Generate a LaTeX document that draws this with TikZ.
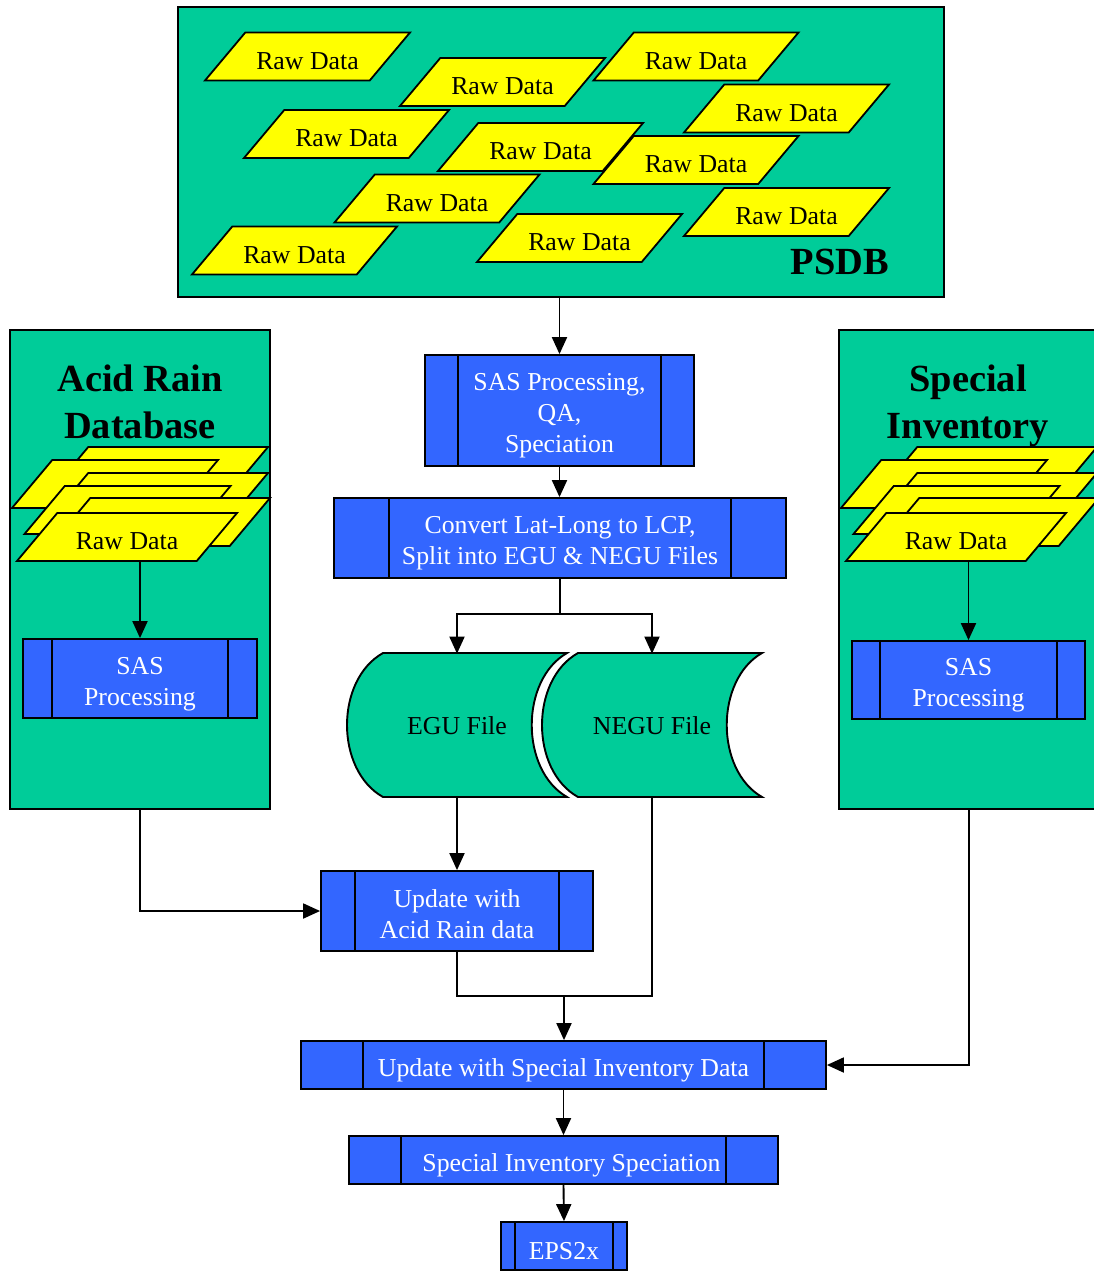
\documentclass[tikz,border=0pt]{standalone}
\usepackage{fontspec}
\setmainfont{Liberation Serif}
\usetikzlibrary{shapes.geometric,arrows.meta}

\definecolor{dbgreen}{RGB}{0,204,153}
\definecolor{procblue}{RGB}{51,102,255}
\definecolor{datayellow}{RGB}{255,255,0}
\newcommand{\topstrut}{\rule{0pt}{14pt}}

\begin{document}
\begin{tikzpicture}[x=0.5pt,y=-0.5pt]
\tikzset{database/.style = {shape=rectangle,draw,fill=dbgreen,line width=0.9pt,inner sep=0pt}}
\tikzset{rawdata/.style = {shape=trapezium,trapezium left angle=50,trapezium right angle=130,trapezium stretches body,draw,fill=datayellow,line width=0.9pt,inner xsep=0pt,inner ysep=5.75pt,text height=12.5pt,text depth=0pt,minimum width=102.5pt,font=\fontsize{12.9}{15.5}\selectfont}}
\tikzset{rawstack/.style = {rawdata,minimum width=110pt}}
\tikzset{process/.style = {shape=rectangle,draw,fill=procblue,line width=0.9pt,inner ysep=0pt,text=white,align=center,font=\fontsize{12.9}{15.5}\selectfont,
  path picture={\draw[line width=0.7pt] ([xshift=#1]path picture bounding box.north west) -- ([xshift=#1]path picture bounding box.south west);
                \draw[line width=0.7pt] ([xshift=-#1]path picture bounding box.north east) -- ([xshift=-#1]path picture bounding box.south east);}}}
\tikzset{dbtitle/.style = {align=center,font=\fontsize{19.2}{23.5}\selectfont\bfseries}}
\tikzset{filetext/.style = {minimum height=72pt,inner sep=0pt,font=\fontsize{12.9}{15.5}\selectfont}}
\tikzset{edge/.style = {-{Triangle[width=7.5pt,length=8.5pt]},line width=0.95pt}}
\tikzset{link/.style = {line width=0.95pt}}

\clip (0,0) rectangle (1094,1271);

% PSDB
\node[database,minimum width=383pt,minimum height=145pt] (psdb) at (561,152) {};
\node[rawdata] (raw1) at (307.5,56.5) {Raw Data};
\node[rawdata] (raw2) at (502.5,82) {Raw Data};
\node[rawdata] (raw3) at (696,56.5) {Raw Data};
\node[rawdata] (raw4) at (786.5,108.5) {Raw Data};
\node[rawdata] (raw5) at (346.5,134) {Raw Data};
\node[rawdata] (raw6) at (540.5,147) {Raw Data};
\node[rawdata] (raw7) at (696,160) {Raw Data};
\node[rawdata] (raw8) at (437,198.5) {Raw Data};
\node[rawdata] (raw9) at (786.5,212) {Raw Data};
\node[rawdata] (raw10) at (294.5,250.5) {Raw Data};
\node[rawdata] (raw11) at (579.5,238) {Raw Data};
\node[font=\fontsize{19.2}{23.5}\selectfont\bfseries] (psdblabel) at (840,262) {PSDB};

% side databases
\node[database,minimum width=130pt,minimum height=239.5pt] (acidrain) at (140,569.5) {};
\node[database,minimum width=130pt,minimum height=239.5pt] (special) at (969,569.5) {};
\node[dbtitle] (artitle) at (140,402) {Acid Rain\\Database};
\node[dbtitle] (sititle) at (968,406) {Special\\Inventory};

\node[rawstack] (ar1) at (158,471) {};
\node[rawstack,minimum width=103pt] (ar2) at (115,484) {};
\node[rawstack] (ar3) at (158,497) {};
\node[rawstack,minimum width=103pt] (ar4) at (127.5,510) {};
\node[rawstack] (ar5) at (160,522) {};
\node[rawstack] (ar6) at (127,537) {Raw Data};

\node[rawstack] (si1) at (987,471) {};
\node[rawstack,minimum width=103pt] (si2) at (944,484) {};
\node[rawstack] (si3) at (987,497) {};
\node[rawstack,minimum width=103pt] (si4) at (956.5,510) {};
\node[rawstack] (si5) at (989,522) {};
\node[rawstack] (si6) at (956,537) {Raw Data};

% processing steps
\node[process=14.5pt,minimum width=117pt,minimum height=39.5pt] (sasar) at (140,678.5) {\topstrut SAS\\Processing};
\node[process=14pt,minimum width=116.5pt,minimum height=39pt] (sassi) at (968.5,680) {\topstrut SAS\\Processing};
\node[process=16.5pt,minimum width=134.5pt,minimum height=55.5pt] (sasqa) at (559.5,410.5) {\topstrut SAS Processing,\\QA,\\Speciation};
\node[process=27.5pt,minimum width=226pt,minimum height=40pt] (convert) at (560,538) {\topstrut Convert Lat-Long to LCP,\\Split into EGU \& NEGU Files};
\node[process=17pt,minimum width=136pt,minimum height=40pt] (updar) at (457,911) {\rule{0pt}{12pt}Update with\\Acid Rain data};
\node[process=31pt,minimum width=262.5pt,minimum height=24pt] (updsi) at (563.5,1065) {\topstrut Update with Special Inventory Data};
\node[process=26pt,minimum width=214.5pt,minimum height=24pt] (spec) at (563.5,1160) {\topstrut\hspace*{8pt}Special Inventory Speciation};
\node[process=7pt,minimum width=63pt,minimum height=24pt] (eps) at (564,1246) {\topstrut EPS2x};

% files
\filldraw[link,fill=dbgreen] (383,653) -- (567,653) .. controls (520,680) and (520,770) .. (567,797) -- (383,797) .. controls (335,770) and (335,680) .. cycle;
\filldraw[link,fill=dbgreen] (578,653) -- (762,653) .. controls (715,680) and (715,770) .. (762,797) -- (578,797) .. controls (530,770) and (530,680) .. cycle;
\node[filetext] (egu) at (457,726) {EGU File};
\node[filetext] (negu) at (652,726) {NEGU File};

\coordinate (split) at (560,614);
\coordinate (merge) at (564,996);

\draw[edge] (psdb.south -| sasqa.north) -- (sasqa.north);
\draw[edge] (sasqa.south) -- (sasqa.south |- convert.north);
\draw[link] (convert.south) -- (split);
\draw[edge] (split) -| (egu.north);
\draw[edge] (split) -| (negu.north);
\draw[edge] (ar6.south -| sasar.north) -- (sasar.north);
\draw[edge] (si6.south -| sassi.north) -- (sassi.north);
\draw[edge] (egu.south) -- (updar.north);
\draw[edge] (acidrain.south) |- (updar.west);
\draw[link] (updar.south) |- (merge) -| (negu.south);
\draw[edge] (merge) -- (merge |- updsi.north);
\draw[edge] (special.south) |- (updsi.east);
\draw[edge] (updsi.south) -- (spec.north);
\draw[edge] (spec.south) -- (eps.north);
\end{tikzpicture}
\end{document}
